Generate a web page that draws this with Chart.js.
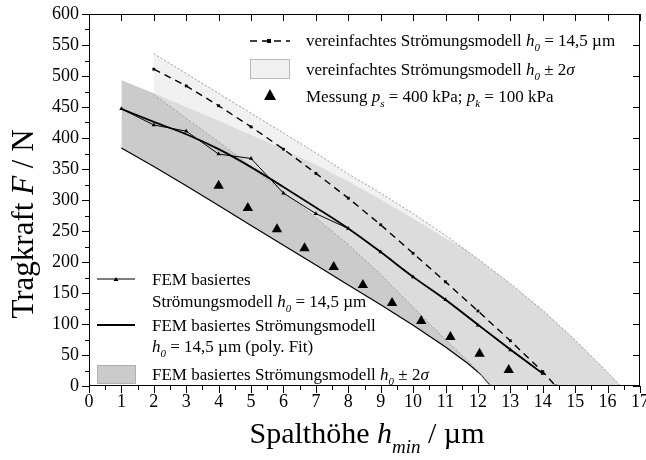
<!DOCTYPE html>
<html>
<head>
<meta charset="utf-8">
<script src="https://cdn.jsdelivr.net/npm/chart.js@4.4.0/dist/chart.umd.min.js"></script>
<style>
  html, body { margin: 0; padding: 0; background: #fff; }
</style>
</head>
<body>
<canvas id="chart" width="646" height="460"></canvas>
<script>
// FEM basiertes Strömungsmodell h0 = 14,5 µm (Punkte) und poly. Fit
const hFem = [1, 2, 3, 4, 5, 6, 7, 8, 9, 10, 11, 12, 13, 14];
const fFem = [447, 421, 411, 374, 367, 311, 278, 254, 216, 176, 139, 98, 58, 20];
const fFemFit = [447, 426, 406, 382, 353, 321, 288, 254, 216, 176, 139, 99, 59, 20];

// vereinfachtes Strömungsmodell h0 = 14,5 µm
const hSimple = [2, 3, 4, 5, 6, 7, 8, 9, 10, 11, 12, 13, 14, 14.4];
const fSimple = [511, 484, 452, 418, 382, 343, 303, 260, 214, 168, 121, 73, 23, 0];

// Messung ps = 400 kPa; pk = 100 kPa
const hMess = [4.0, 4.9, 5.8, 6.65, 7.55, 8.45, 9.35, 10.25, 11.15, 12.05, 12.95];
const fMess = [323, 287, 253, 222, 192, 163, 134, 105, 79, 52, 26];

// FEM Band h0 +/- 2 sigma
const hFemUp = [1, 2, 3, 4, 5, 6, 7, 8, 9, 10, 11, 11.5, 12, 13, 14, 15, 16, 16.4];
const fFemUp = [493, 472, 450, 428, 405, 382, 357, 330, 301, 270, 238, 224, 205, 165, 122, 74, 22, 0];
const hFemLow = [1, 2, 3, 4, 5, 6, 7, 8, 9, 10, 11, 11.7, 12.1, 12.4, 16.4];
const fFemLow = [384, 354, 323, 291, 259, 227, 195, 163, 131, 98, 63, 36, 18, 0, 0];

// vereinfachtes Band h0 +/- 2 sigma
const hSimpleUp = [2, 3, 4, 5, 6, 7, 8, 9, 10, 11, 12, 13, 14, 15, 16, 16.4];
const fSimpleUp = [536, 504, 472, 440, 408, 376, 342, 311, 278, 243, 205, 165, 122, 74, 22, 0];
const hSimpleLow = [2, 3, 4, 5, 6, 7, 8, 9, 10, 11, 11.7, 12, 12.4, 16.4];
const fSimpleLow = [470, 432, 394, 354, 313, 271, 228, 180, 127, 75, 40, 24, 0, 0];

const pts = (xs, ys) => xs.map((x, i) => ({ x: x, y: ys[i] }));
const SERIF = "'Liberation Serif', 'Times New Roman', serif";

// edge lines are hidden along the x axis (only there to close the fill)
const hideOnAxis = ctx => (ctx.p0.parsed.y === 0 && ctx.p1.parsed.y === 0) ? 'rgba(0,0,0,0)' : undefined;

function rich(ctx, parts, x, y, size, align) {
  const font = p => (p[1].includes('i') ? 'italic ' : '') +
    (p[1].includes('s') ? Math.round(size * 0.62) : size) + 'px ' + SERIF;
  let w = 0;
  parts.forEach(p => { ctx.font = font(p); w += ctx.measureText(p[0]).width; });
  let cx = align === 'center' ? x - w / 2 : x;
  parts.forEach(p => {
    ctx.font = font(p);
    ctx.fillText(p[0], cx, y + (p[1].includes('s') ? size * 0.32 : 0));
    cx += ctx.measureText(p[0]).width;
  });
}

const frame = {
  id: 'frame',
  afterDatasetsDraw(chart) {
    const { ctx, chartArea: a, scales: { x, y } } = chart;
    ctx.save();
    ctx.strokeStyle = '#000';
    ctx.lineWidth = 1;
    ctx.strokeRect(a.left + 0.5, a.top + 0.5, a.right - a.left - 1, a.bottom - a.top - 1);
    ctx.beginPath();
    for (let v = 0; v <= 17; v += 0.5) {
      const px = Math.round(x.getPixelForValue(v)) + 0.5;
      const major = v % 1 === 0;
      ctx.moveTo(px, a.bottom);
      ctx.lineTo(px, a.bottom + (major ? 7 : 4));
      if (major) { ctx.moveTo(px, a.top); ctx.lineTo(px, a.top + 7); }
    }
    for (let v = 0; v <= 600; v += 25) {
      const py = Math.round(y.getPixelForValue(v)) + 0.5;
      const major = v % 50 === 0;
      ctx.moveTo(a.left, py);
      ctx.lineTo(a.left - (major ? 7 : 4), py);
      if (major) { ctx.moveTo(a.right, py); ctx.lineTo(a.right - 7, py); }
    }
    ctx.stroke();
    ctx.restore();
  },
  afterDraw(chart) {
    const ctx = chart.ctx;
    ctx.save();
    ctx.fillStyle = '#000';
    ctx.textBaseline = 'alphabetic';
    ctx.textAlign = 'left';

    // axis titles
    rich(ctx, [['Spalthöhe ', ''], ['h', 'i'], ['min', 'si'], [' / µm', '']], 367, 443, 30, 'center');
    ctx.save();
    ctx.translate(33, 224);
    ctx.rotate(-Math.PI / 2);
    rich(ctx, [['Tragkraft ', ''], ['F', 'i'], [' / N', '']], 0, 0, 31, 'center');
    ctx.restore();

    // legend top right
    ctx.strokeStyle = '#000';
    ctx.lineWidth = 1.3;
    ctx.setLineDash([7, 5]);
    ctx.beginPath(); ctx.moveTo(250, 41); ctx.lineTo(290, 41); ctx.stroke();
    ctx.setLineDash([]);
    ctx.fillRect(267, 39, 4, 4);
    ctx.fillStyle = '#f1f1f1';
    ctx.fillRect(250.5, 59.5, 39, 19);
    ctx.strokeStyle = '#b8b8b8';
    ctx.lineWidth = 1;
    ctx.strokeRect(250.5, 59.5, 39, 19);
    ctx.fillStyle = '#000';
    ctx.beginPath(); ctx.moveTo(270, 89); ctx.lineTo(276, 100); ctx.lineTo(264, 100); ctx.closePath(); ctx.fill();

    rich(ctx, [['vereinfachtes Strömungsmodell ', ''], ['h', 'i'], ['0', 'si'], [' = 14,5 µm', '']], 306, 46, 17);
    rich(ctx, [['vereinfachtes Strömungsmodell ', ''], ['h', 'i'], ['0', 'si'], [' ± 2', ''], ['σ', 'i']], 306, 75, 17);
    rich(ctx, [['Messung ', ''], ['p', 'i'], ['s', 'si'], [' = 400 kPa; ', ''], ['p', 'i'], ['k', 'si'], [' = 100 kPa', '']], 306, 102, 17);

    // legend bottom left
    ctx.strokeStyle = '#000';
    ctx.lineWidth = 1;
    ctx.beginPath(); ctx.moveTo(97, 279); ctx.lineTo(135, 279); ctx.stroke();
    ctx.beginPath(); ctx.moveTo(116, 277); ctx.lineTo(118.5, 281); ctx.lineTo(113.5, 281); ctx.closePath(); ctx.fill();
    ctx.lineWidth = 1.8;
    ctx.beginPath(); ctx.moveTo(97, 325); ctx.lineTo(135, 325); ctx.stroke();
    ctx.fillStyle = '#cbcbcb';
    ctx.fillRect(97, 365, 38, 18);
    ctx.strokeStyle = '#b0b0b0';
    ctx.lineWidth = 1;
    ctx.strokeRect(97.5, 365.5, 38, 18);
    ctx.fillStyle = '#000';
    rich(ctx, [['FEM basiertes', '']], 152, 285, 17);
    rich(ctx, [['Strömungsmodell ', ''], ['h', 'i'], ['0', 'si'], [' = 14,5 µm', '']], 152, 307, 17);
    rich(ctx, [['FEM basiertes Strömungsmodell', '']], 152, 331, 17);
    rich(ctx, [['h', 'i'], ['0', 'si'], [' = 14,5 µm (poly. Fit)', '']], 152, 352, 17);
    rich(ctx, [['FEM basiertes Strömungsmodell ', ''], ['h', 'i'], ['0', 'si'], [' ± 2', ''], ['σ', 'i']], 152, 380, 17);
    ctx.restore();
  }
};

new Chart(document.getElementById('chart').getContext('2d'), {
  type: 'line',
  data: {
    datasets: [
      {
        label: 'FEM Band oben',
        data: pts(hFemUp, fFemUp),
        borderWidth: 0,
        pointRadius: 0,
        backgroundColor: '#cbcbcb',
        fill: '+1',
        order: 8
      },
      {
        label: 'FEM Band unten',
        data: pts(hFemLow, fFemLow),
        borderColor: '#000',
        borderWidth: 1.2,
        pointRadius: 0,
        fill: false,
        segment: { borderColor: hideOnAxis },
        order: 7
      },
      {
        label: 'vereinfacht Band oben',
        data: pts(hSimpleUp, fSimpleUp),
        borderColor: '#9a9a9a',
        borderWidth: 1,
        borderDash: [2, 2],
        pointRadius: 0,
        backgroundColor: 'rgba(232,232,232,0.6)',
        fill: '+1',
        order: 6
      },
      {
        label: 'vereinfacht Band unten',
        data: pts(hSimpleLow, fSimpleLow),
        borderColor: '#9a9a9a',
        borderWidth: 1,
        borderDash: [2, 2],
        pointRadius: 0,
        fill: false,
        segment: { borderColor: hideOnAxis },
        order: 5
      },
      {
        label: 'vereinfachtes Strömungsmodell h0 = 14,5 µm',
        data: pts(hSimple, fSimple),
        borderColor: '#000',
        borderWidth: 1.4,
        borderDash: [7, 5],
        pointStyle: 'rect',
        pointRadius: 2,
        pointBackgroundColor: '#000',
        pointBorderWidth: 0,
        fill: false,
        order: 4
      },
      {
        label: 'FEM basiertes Strömungsmodell h0 = 14,5 µm',
        data: pts(hFem, fFem),
        borderColor: '#000',
        borderWidth: 1,
        pointStyle: 'triangle',
        pointRadius: 2.5,
        pointBackgroundColor: '#000',
        pointBorderWidth: 0,
        fill: false,
        order: 3
      },
      {
        label: 'FEM basiertes Strömungsmodell (poly. Fit)',
        data: pts(hFem, fFemFit),
        borderColor: '#000',
        borderWidth: 1.8,
        cubicInterpolationMode: 'monotone',
        pointRadius: 0,
        fill: false,
        order: 2
      },
      {
        label: 'Messung',
        data: pts(hMess, fMess),
        showLine: false,
        pointStyle: 'triangle',
        pointRadius: 6,
        pointBackgroundColor: '#000',
        pointBorderWidth: 0,
        order: 1
      }
    ]
  },
  options: {
    responsive: false,
    animation: false,
    layout: { padding: { top: 14, right: 6, left: 0, bottom: 0 } },
    plugins: { legend: { display: false }, tooltip: { enabled: false } },
    scales: {
      x: {
        type: 'linear',
        min: 0,
        max: 17,
        grid: { display: false, drawTicks: false },
        border: { display: false },
        ticks: { stepSize: 1, color: '#000', padding: 5, maxRotation: 0, font: { family: SERIF, size: 18 } },
        afterFit: s => { s.height = 74; s.paddingLeft = 0; s.paddingRight = 0; }
      },
      y: {
        min: 0,
        max: 600,
        grid: { display: false, drawTicks: false },
        border: { display: false },
        ticks: { stepSize: 50, color: '#000', padding: 10, font: { family: SERIF, size: 18 } },
        afterFit: s => { s.width = 89; s.paddingTop = 0; s.paddingBottom = 0; }
      }
    }
  },
  plugins: [frame]
});
</script>
</body>
</html>
